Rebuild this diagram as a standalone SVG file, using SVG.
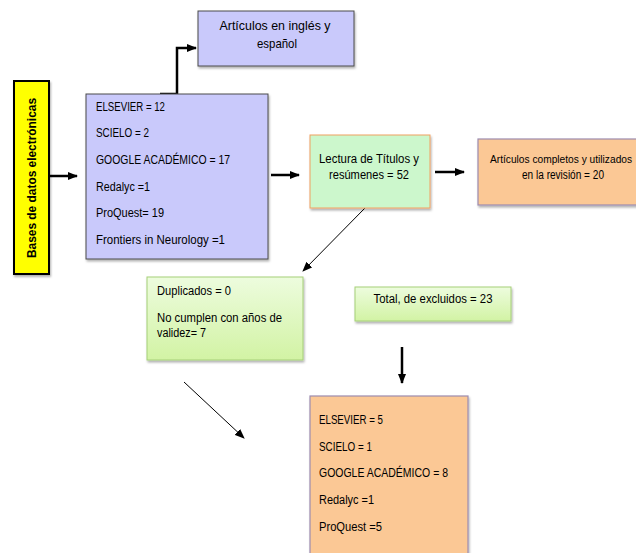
<svg xmlns="http://www.w3.org/2000/svg" width="636" height="553" viewBox="0 0 636 553">
<style>
text{font-family:"Liberation Sans",Arial,sans-serif;font-size:12.5px;fill:#000}
.big{font-size:13.5px}
.bold{font-weight:bold;font-size:13px}
.blue{fill:#c9c9fb;stroke:#4a4a4a;stroke-width:1}
.yellow{fill:#ffff00;stroke:#000;stroke-width:2}
.lgreen{fill:#ccf7cc;stroke:#f0a060;stroke-width:1}
.orange{fill:#fbc895;stroke:#9d8cb0;stroke-width:1.2}
.pgreen{fill:url(#gg);stroke:#a6cf78;stroke-width:1}
.thick{fill:none;stroke:#000;stroke-width:2.5}
.thin{fill:none;stroke:#000;stroke-width:1}
</style>
<defs>
<linearGradient id="gg" x1="0" y1="0" x2="0" y2="1">
<stop offset="0" stop-color="#edfcde"/>
<stop offset="1" stop-color="#d2f3a4"/>
</linearGradient>
<filter id="sh" x="-10%" y="-10%" width="130%" height="130%">
<feDropShadow dx="1" dy="2" stdDeviation="1" flood-color="#000" flood-opacity="0.3"/>
</filter>
<marker id="ah" markerUnits="userSpaceOnUse" markerWidth="10" markerHeight="8" refX="9" refY="4" orient="auto">
<path d="M0,0 L10,4 L0,8 z" fill="#000"/>
</marker>
<marker id="ahs" markerUnits="userSpaceOnUse" markerWidth="10" markerHeight="8" refX="9" refY="4" orient="auto">
<path d="M0,0 L10,4 L0,8 z" fill="#000"/>
</marker>
</defs>

<g id="connectors">
<line class="thick" x1="50" y1="176" x2="77" y2="176" marker-end="url(#ah)"/>
<path class="thick" d="M160,94 H177 V48 H196" marker-end="url(#ah)"/>
<line class="thick" x1="271" y1="175" x2="299" y2="175" marker-end="url(#ah)"/>
<line class="thick" x1="435" y1="172" x2="464" y2="172" marker-end="url(#ah)"/>
<line class="thin" x1="365" y1="208" x2="303" y2="271" marker-end="url(#ahs)"/>
<line class="thin" x1="184" y1="382" x2="244" y2="438" marker-end="url(#ahs)"/>
<line class="thick" x1="402" y1="347" x2="402" y2="383" marker-end="url(#ah)"/>
</g>

<g id="bases">
<rect class="yellow" x="14" y="81" width="35" height="193" filter="url(#sh)"/>
<text class="bold" transform="translate(36,178) rotate(-90)" text-anchor="middle" textLength="160" lengthAdjust="spacingAndGlyphs">Bases de datos electrónicas</text>
</g>

<g id="idioma">
<rect class="blue" x="198" y="11" width="156" height="55" filter="url(#sh)"/>
<text class="big" x="275" y="30" text-anchor="middle" textLength="111" lengthAdjust="spacingAndGlyphs">Artículos en inglés y</text>
<text class="big" x="277" y="48" text-anchor="middle" textLength="40" lengthAdjust="spacingAndGlyphs">español</text>
</g>

<g id="fuentes">
<rect class="blue" x="86" y="94" width="182" height="165" filter="url(#sh)"/>
<text x="96" y="111" textLength="69" lengthAdjust="spacingAndGlyphs">ELSEVIER = 12</text>
<text x="96" y="137" textLength="53" lengthAdjust="spacingAndGlyphs">SCIELO = 2</text>
<text x="96" y="164" textLength="134" lengthAdjust="spacingAndGlyphs">GOOGLE ACADÉMICO = 17</text>
<text x="96" y="191" textLength="54" lengthAdjust="spacingAndGlyphs">Redalyc =1</text>
<text x="96" y="217" textLength="68" lengthAdjust="spacingAndGlyphs">ProQuest= 19</text>
<text x="96" y="244" textLength="129" lengthAdjust="spacingAndGlyphs">Frontiers in Neurology =1</text>
</g>

<g id="lectura">
<rect class="lgreen" x="310" y="135" width="120" height="73" filter="url(#sh)"/>
<text x="369" y="163" text-anchor="middle" textLength="100" lengthAdjust="spacingAndGlyphs">Lectura de Títulos y</text>
<text x="369" y="179" text-anchor="middle" textLength="80" lengthAdjust="spacingAndGlyphs">resúmenes = 52</text>
</g>

<g id="completos">
<rect class="orange" x="478" y="139" width="170" height="66" filter="url(#sh)"/>
<text x="561" y="163" text-anchor="middle" style="font-size:10.2px">Artículos completos y utilizados</text>
<text x="563" y="179" text-anchor="middle" textLength="82" lengthAdjust="spacingAndGlyphs">en la revisión = 20</text>
</g>

<g id="duplicados">
<rect class="pgreen" x="147" y="277" width="156" height="83" filter="url(#sh)"/>
<text x="157" y="295" textLength="74" lengthAdjust="spacingAndGlyphs">Duplicados = 0</text>
<text x="157" y="322" textLength="125" lengthAdjust="spacingAndGlyphs">No cumplen con años de</text>
<text x="157" y="337" textLength="49" lengthAdjust="spacingAndGlyphs">validez= 7</text>
</g>

<g id="total">
<rect class="pgreen" x="355" y="287" width="156" height="34" filter="url(#sh)"/>
<text x="433" y="303" text-anchor="middle" textLength="119" lengthAdjust="spacingAndGlyphs">Total, de excluidos = 23</text>
</g>

<g id="excluidos">
<rect class="orange" x="310" y="396" width="158" height="170" filter="url(#sh)"/>
<text x="319" y="424" textLength="64" lengthAdjust="spacingAndGlyphs">ELSEVIER = 5</text>
<text x="319" y="451" textLength="53" lengthAdjust="spacingAndGlyphs">SCIELO = 1</text>
<text x="319" y="477" textLength="129" lengthAdjust="spacingAndGlyphs">GOOGLE ACADÉMICO = 8</text>
<text x="319" y="504" textLength="55" lengthAdjust="spacingAndGlyphs">Redalyc =1</text>
<text x="319" y="531" textLength="63" lengthAdjust="spacingAndGlyphs">ProQuest =5</text>
</g>
</svg>
